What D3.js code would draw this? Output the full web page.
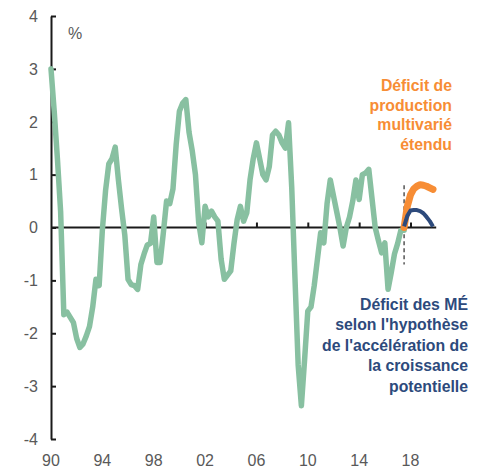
<!DOCTYPE html>
<html>
<head>
<meta charset="utf-8">
<script src="https://cdn.jsdelivr.net/npm/d3@7"></script>
<style>
	body { margin: 0; background: #fff; }
	svg { font-family: "Liberation Sans", Arial, sans-serif; }
	.tick-label { fill: #595959; font-size: 16px; }
	.note { font-size: 15.8px; font-weight: bold; }
</style>
</head>
<body>
<div id="chart"></div>
<script>
// Quarterly output gap, 1990Q1 onwards (%)
let startYear = 1990;
let gapValues = [
	3.0, 2.2, 1.3, 0.3,
	-1.65, -1.6, -1.7, -1.8,
	-2.1, -2.27, -2.2, -2.05,
	-1.87, -1.5, -0.98, -1.1,
	-0.05, 0.7, 1.2, 1.3,
	1.52, 0.9, 0.35, -0.15,
	-0.98, -1.08, -1.1, -1.17,
	-0.7, -0.5, -0.33, -0.3,
	0.2, -0.66, -0.66, -0.1,
	0.5, 0.45, 0.73, 1.57,
	2.2, 2.35, 2.42, 1.8,
	1.45, 1.0, 0.1, -0.29,
	0.4, 0.2, 0.31, 0.2,
	0.12, -0.6, -0.98, -0.9,
	-0.82, -0.3, 0.15, 0.4,
	0.12, 0.28, 0.9, 1.3,
	1.6, 1.3, 1.0, 0.9,
	1.15, 1.75, 1.82, 1.75,
	1.6, 1.5, 1.98, 0.75,
	-0.95, -2.6, -3.37, -2.5,
	-1.58, -1.5, -1.1, -0.6,
	-0.1, -0.29, 0.45, 0.9,
	0.6, 0.3, 0.0, -0.35,
	0.0, 0.2, 0.5, 0.9,
	0.53, 1.0, 1.03, 1.1,
	0.55, 0.0, -0.25, -0.48,
	-0.29, -1.17, -0.85, -0.5,
	-0.3, -0.05, -0.05
];

// Projections from 2017Q3
let projStart = 2017.5;
let extendedValues = [0.0, 0.4, 0.62, 0.73, 0.78, 0.81, 0.8, 0.78, 0.75, 0.72];
let growthValues = [0.02, 0.22, 0.32, 0.33, 0.33, 0.31, 0.27, 0.2, 0.12, 0.02];

let yTicks = [4, 3, 2, 1, 0, -1, -2, -3, -4];
let xTicks = [1990, 1994, 1998, 2002, 2006, 2010, 2014, 2018];
let xTickLabels = ["90", "94", "98", "02", "06", "10", "14", "18"];

let extendedLabel = ["Déficit de", "production", "multivarié", "étendu"];
let growthLabel = ["Déficit des MÉ", "selon l'hypothèse", "de l'accélération de", "la croissance", "potentielle"];

let width = 483, height = 468;

let svg = d3.select("#chart").append("svg")
	.attr("width", width)
	.attr("height", height);

let x = d3.scaleLinear()
	.domain([1990, 2020])
	.range([51, 436.2]);

let y = d3.scaleLinear()
	.domain([-4, 4])
	.range([439, 16]);

let toSeries = (vals, start) => vals.map((v, i) => ({ t: start + i / 4, v: v }));

let line = d3.line()
	.x(d => x(d.t))
	.y(d => y(d.v));

// Zero line with upward ticks
svg.append("g")
	.attr("transform", "translate(0," + y(0) + ")")
	.call(d3.axisTop(x).tickValues(xTicks.slice(1)).tickSize(5).tickFormat(""))
	.call(g => g.select(".domain").attr("d", "M" + x(1990) + ",0H" + x(2020)))
	.call(g => g.selectAll("line, path").attr("stroke", "#1a1a1a").attr("stroke-width", 2));

// Y axis, ticks pointing right
svg.append("g")
	.attr("transform", "translate(" + x(1990) + ",0)")
	.call(d3.axisRight(y).tickValues(yTicks).tickSize(5).tickSizeOuter(0).tickFormat(""))
	.call(g => g.selectAll("line, path").attr("stroke", "#1a1a1a").attr("stroke-width", 2));

// Y tick labels
svg.selectAll(".ylab")
	.data(yTicks)
	.enter().append("text")
	.attr("class", "tick-label")
	.attr("x", 38)
	.attr("y", d => y(d))
	.attr("dy", "0.36em")
	.style("text-anchor", "end")
	.text(d => d);

// X tick labels along the bottom
svg.selectAll(".xlab")
	.data(xTicks)
	.enter().append("text")
	.attr("class", "tick-label")
	.attr("x", d => x(d))
	.attr("y", 466)
	.style("text-anchor", "middle")
	.text((d, i) => xTickLabels[i]);

svg.append("text")
	.attr("class", "tick-label")
	.attr("x", 68)
	.attr("y", 39)
	.text("%");

// Dashed marker at projection start
svg.append("line")
	.attr("x1", x(projStart)).attr("x2", x(projStart))
	.attr("y1", y(0.8)).attr("y2", y(-0.7))
	.attr("stroke", "#555")
	.attr("stroke-width", 1.5)
	.attr("stroke-dasharray", "4,3");

// Series
svg.append("path")
	.datum(toSeries(gapValues, startYear))
	.attr("fill", "none")
	.attr("stroke", "#88c0a1")
	.attr("stroke-width", 5.5)
	.attr("stroke-linejoin", "round")
	.attr("stroke-linecap", "round")
	.attr("d", line);

svg.append("path")
	.datum(toSeries(extendedValues, projStart))
	.attr("fill", "none")
	.attr("stroke", "#f78d35")
	.attr("stroke-width", 7)
	.attr("stroke-linejoin", "round")
	.attr("stroke-linecap", "round")
	.attr("d", line);

svg.append("path")
	.datum(toSeries(growthValues, projStart))
	.attr("fill", "none")
	.attr("stroke", "#2d4a7c")
	.attr("stroke-width", 4)
	.attr("stroke-linejoin", "round")
	.attr("d", line);

// Annotations
svg.append("text")
	.attr("class", "note")
	.attr("fill", "#f78d35")
	.style("text-anchor", "end")
	.selectAll("tspan")
	.data(extendedLabel)
	.enter().append("tspan")
	.attr("x", 452)
	.attr("y", (d, i) => 91 + i * 19.5)
	.text(d => d);

svg.append("text")
	.attr("class", "note")
	.attr("fill", "#2d4a7c")
	.style("text-anchor", "end")
	.selectAll("tspan")
	.data(growthLabel)
	.enter().append("tspan")
	.attr("x", 468)
	.attr("y", (d, i) => 310 + i * 20.4)
	.text(d => d);
</script>
</body>
</html>
